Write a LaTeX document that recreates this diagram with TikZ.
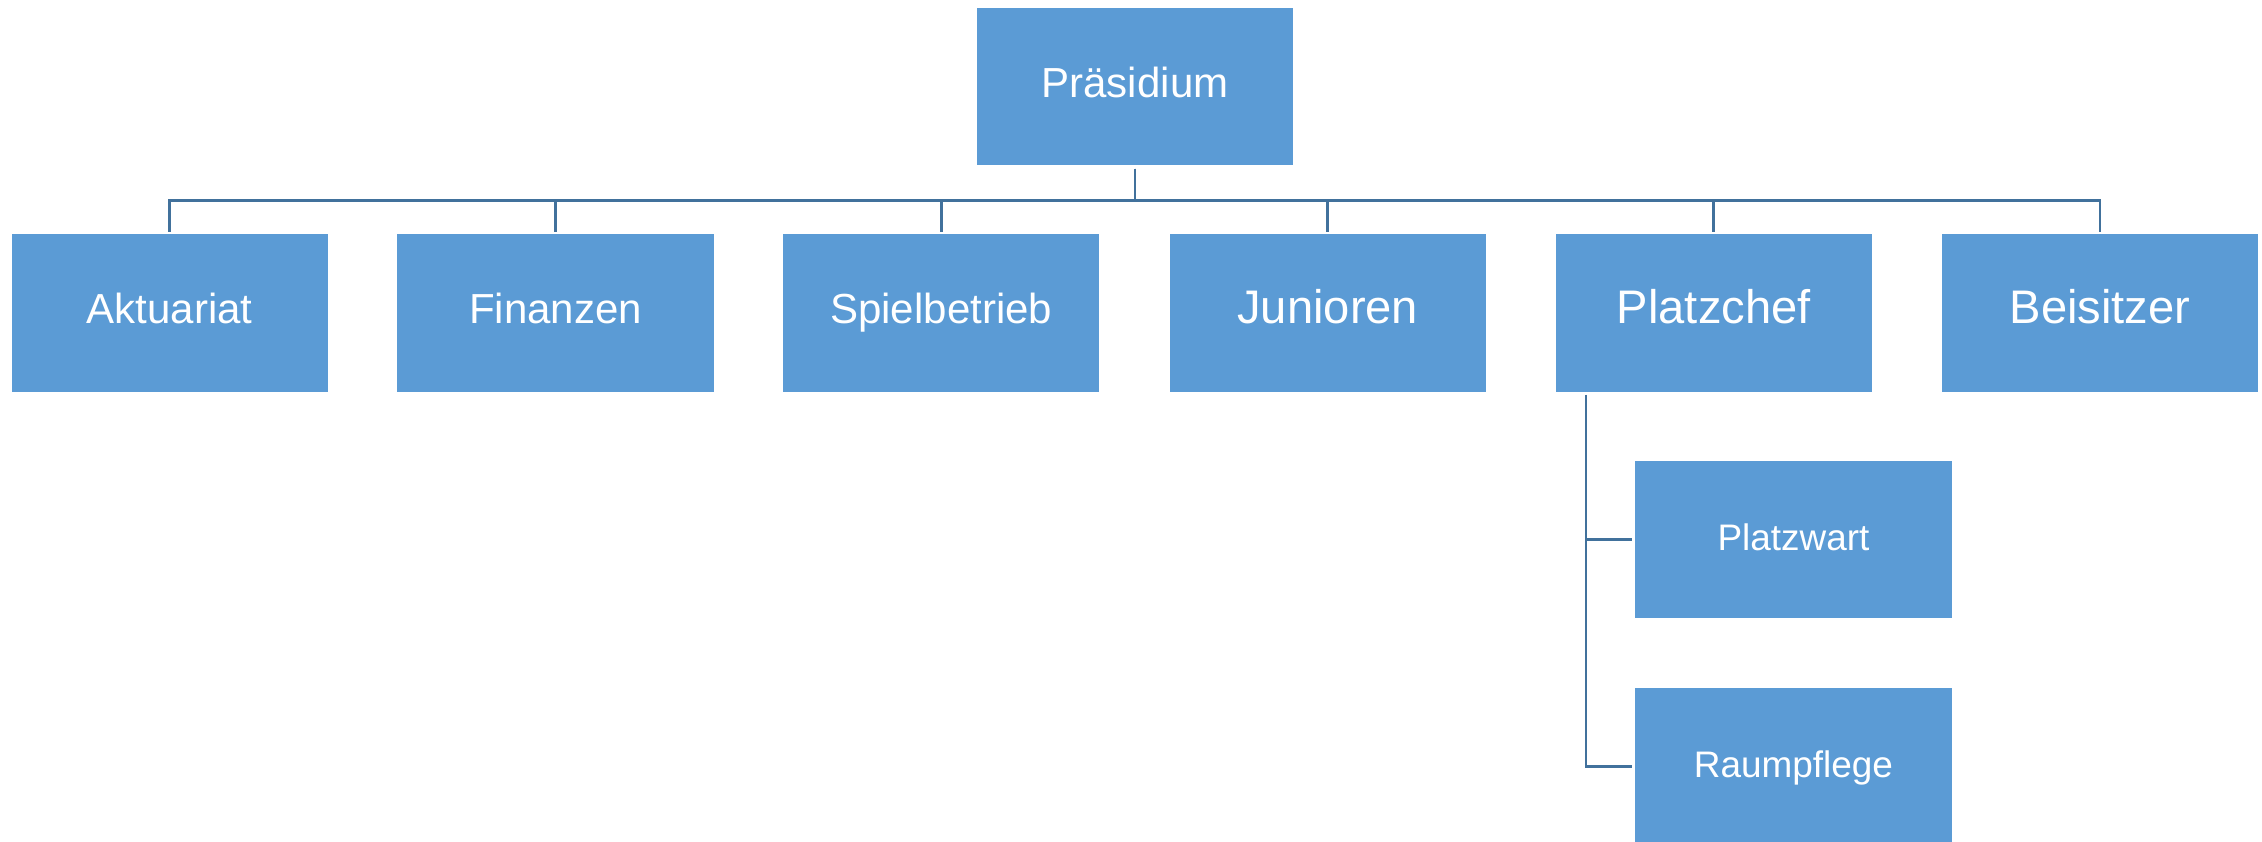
\documentclass[tikz,border=0pt]{standalone}
\usepackage{fontspec}
\setmainfont{Liberation Sans}
\usetikzlibrary{calc}

\definecolor{boxblue}{HTML}{5B9BD5}
\definecolor{lineblue}{HTML}{41719C}

\begin{document}
\begin{tikzpicture}[x=0.01cm, y=-0.01cm]
        \tikzset{box/.style={fill=boxblue, text=white, inner sep=0pt, minimum width=3.16cm, minimum height=1.57cm, text height=0.716em, text depth=0.1em, font=\fontsize{11.95}{14}\selectfont}}
        \tikzset{bigbox/.style={box, font=\fontsize{13.4}{16}\selectfont}}
        \tikzset{subbox/.style={box, font=\fontsize{10.5}{12}\selectfont}}
        \tikzset{conn/.style={draw=lineblue, line width=0.75pt}}

        \useasboundingbox (0, 0) rectangle (2262, 841);

        \node[box]    (praes) at (1135.0,  86.5) {Präsidium};

        \node[box]    (akt)   at ( 169.7, 313.0) {Aktuariat};
        \node[box]    (fin)   at ( 555.5, 313.0) {Finanzen};
        \node[box]    (spiel) at ( 941.2, 313.0) {Spielbetrieb};
        \node[bigbox] (jun)   at (1327.8, 313.0) {Junioren};
        \node[bigbox] (platz) at (1713.8, 313.0) {Platzchef};
        \node[bigbox] (beis)  at (2100.0, 313.0) {Beisitzer};

        \node[subbox] (wart)  at (1793.5, 539.5) {Platzwart};
        \node[subbox] (raum)  at (1793.5, 766.5) {Raumpflege};

        % Praesidium -> erste Ebene
        \draw[conn, shorten <=0.03cm, shorten >=0.02cm] (praes.south) -- ++(0, 35) -| (akt.north);
        \draw[conn, shorten <=0.03cm, shorten >=0.02cm] (praes.south) -- ++(0, 35) -| (fin.north);
        \draw[conn, shorten <=0.03cm, shorten >=0.02cm] (praes.south) -- ++(0, 35) -| (spiel.north);
        \draw[conn, shorten <=0.03cm, shorten >=0.02cm] (praes.south) -- ++(0, 35) -| (jun.north);
        \draw[conn, shorten <=0.03cm, shorten >=0.02cm] (praes.south) -- ++(0, 35) -| (platz.north);
        \draw[conn, shorten <=0.03cm, shorten >=0.02cm] (praes.south) -- ++(0, 35) -| (beis.north);

        % Platzchef -> Unterstellte
        \coordinate (trunk) at ($(platz.south west) + (31, 0)$);
        \draw[conn, shorten <=0.025cm, shorten >=0.025cm] (trunk) |- (wart.west);
        \draw[conn, shorten <=0.025cm, shorten >=0.025cm] (trunk) |- (raum.west);

\end{tikzpicture}
\end{document}
